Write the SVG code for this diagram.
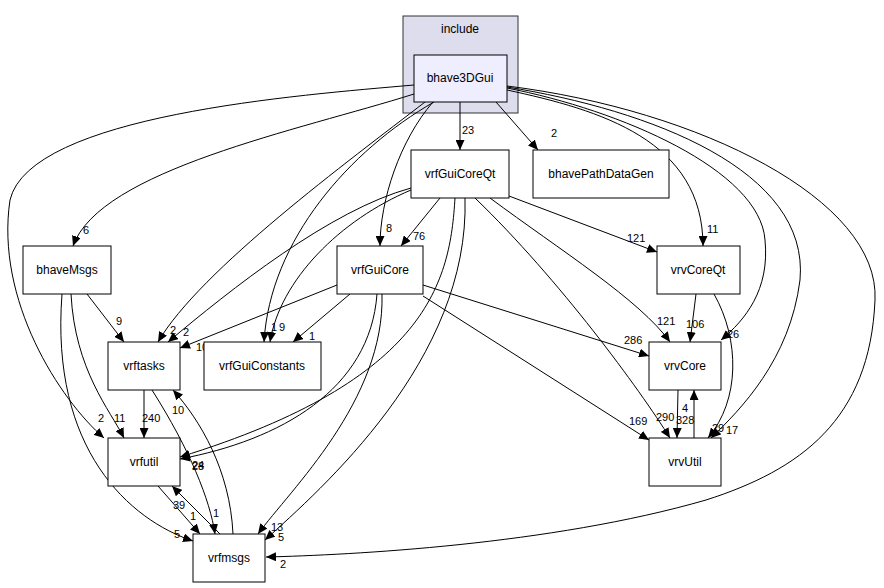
<svg xmlns="http://www.w3.org/2000/svg" width="884" height="588" viewBox="0 0 884 588">
<style>
.n rect{fill:#fff;stroke:#000;stroke-width:1}
text{font-family:"Liberation Sans",Arial,sans-serif;font-size:12px;fill:#000}
.n text{text-anchor:middle}
.e path{fill:none;stroke:#000;stroke-width:1;marker-end:url(#a)}
.l text{font-size:11px}
</style>
<defs><marker id="a" markerUnits="userSpaceOnUse" markerWidth="11" markerHeight="9" refX="10" refY="4.5" orient="auto"><path d="M0,0L10,4.5L0,9z" fill="#000"/></marker></defs>
<rect width="884" height="588" fill="#fff"/>
<g id="cluster_include"><rect x="403" y="16" width="115" height="97" fill="#ddddee" stroke="#333"/><text x="460" y="33" text-anchor="middle">include</text></g>
<g class="e" id="edges">
<path d="M460,102V150"/>
<path d="M496,102L538,150"/>
<path d="M414,94C300,130 100,170 73,246"/>
<path d="M414,85C300,95 30,115 10,200C-5,300 60,400 104,438"/>
<path d="M425,102C350,160 200,270 158,342"/>
<path d="M434,102C350,150 270,240 264,342"/>
<path d="M433,102C400,140 380,200 380,246"/>
<path d="M507,90C600,110 703,140 703,246"/>
<path d="M507,88C620,110 760,170 765,240C770,290 745,320 721,340"/>
<path d="M507,87C650,110 810,170 800,280C790,360 740,410 711,438"/>
<path d="M507,86C700,110 880,200 875,300C870,420 800,470 706,500C550,545 350,555 266,557"/>
<path d="M440,198L401,246"/>
<path d="M509,196L657,252"/>
<path d="M490,198C560,250 640,300 670,342"/>
<path d="M475,198C560,280 640,390 670,438"/>
<path d="M411,188C330,210 230,290 168,342"/>
<path d="M411,190C340,220 280,280 270,342"/>
<path d="M455,198C450,280 430,380 180,457"/>
<path d="M465,198C470,360 320,490 265,540"/>
<path d="M337,285L180,348"/>
<path d="M350,294L293,342"/>
<path d="M377,294C370,390 280,440 180,459"/>
<path d="M382,294C385,400 290,490 258,534"/>
<path d="M423,285L649,356"/>
<path d="M423,296L649,440"/>
<path d="M87,294L124,342"/>
<path d="M71,294C75,370 110,410 124,438"/>
<path d="M62,294C50,450 130,520 193,541"/>
<path d="M144,390V438"/>
<path d="M152,390C190,450 210,500 215,534"/>
<path d="M158,486L200,534"/>
<path d="M220,534L172,486"/>
<path d="M233,534C230,470 200,420 173,390"/>
<path d="M696,294L690,342"/>
<path d="M714,294C740,340 740,400 708,438"/>
<path d="M678,390L677,438"/>
<path d="M694,438V390"/>
</g>
<g class="l" id="labels">
<text x="462" y="134">23</text>
<text x="551" y="137">2</text>
<text x="83" y="234">6</text>
<text x="98" y="422">2</text>
<text x="170" y="334">2</text>
<text x="271" y="331">1</text>
<text x="386" y="232">8</text>
<text x="707" y="233">11</text>
<text x="727" y="338">26</text>
<text x="726" y="434">17</text>
<text x="280" y="568">2</text>
<text x="413" y="240">76</text>
<text x="627" y="242">121</text>
<text x="657" y="325">121</text>
<text x="656" y="421">290</text>
<text x="183" y="336">2</text>
<text x="279" y="331">9</text>
<text x="192" y="469">24</text>
<text x="278" y="541">5</text>
<text x="196" y="351">10</text>
<text x="309" y="340">1</text>
<text x="192" y="470">28</text>
<text x="271" y="531">13</text>
<text x="624" y="344">286</text>
<text x="629" y="425">169</text>
<text x="116" y="325">9</text>
<text x="114" y="422">11</text>
<text x="174" y="538">5</text>
<text x="142" y="422">240</text>
<text x="213" y="517">1</text>
<text x="173" y="509">39</text>
<text x="190" y="520">1</text>
<text x="172" y="414">10</text>
<text x="686" y="328">106</text>
<text x="712" y="432">29</text>
<text x="676" y="424">328</text>
<text x="682" y="412">4</text>
</g>
<g class="n" id="bhave3DGui"><rect x="414" y="55" width="93" height="47" style="fill:#eeeeff;stroke:#000"/><text x="460" y="82">bhave3DGui</text></g>
<g class="n" id="vrfGuiCoreQt"><rect x="411" y="150" width="98" height="48"/><text x="460" y="178">vrfGuiCoreQt</text></g>
<g class="n" id="bhavePathDataGen"><rect x="533" y="150" width="136" height="48"/><text x="601" y="178">bhavePathDataGen</text></g>
<g class="n" id="bhaveMsgs"><rect x="23" y="246" width="88" height="48"/><text x="67" y="274">bhaveMsgs</text></g>
<g class="n" id="vrfGuiCore"><rect x="337" y="246" width="86" height="48"/><text x="380" y="274">vrfGuiCore</text></g>
<g class="n" id="vrvCoreQt"><rect x="657" y="246" width="83" height="48"/><text x="698" y="274">vrvCoreQt</text></g>
<g class="n" id="vrftasks"><rect x="108" y="342" width="72" height="48"/><text x="144" y="370">vrftasks</text></g>
<g class="n" id="vrfGuiConstants"><rect x="204" y="342" width="117" height="48"/><text x="262" y="370">vrfGuiConstants</text></g>
<g class="n" id="vrvCore"><rect x="649" y="342" width="72" height="48"/><text x="685" y="370">vrvCore</text></g>
<g class="n" id="vrfutil"><rect x="108" y="438" width="72" height="48"/><text x="144" y="466">vrfutil</text></g>
<g class="n" id="vrvUtil"><rect x="649" y="438" width="72" height="48"/><text x="685" y="466">vrvUtil</text></g>
<g class="n" id="vrfmsgs"><rect x="193" y="534" width="72" height="48"/><text x="229" y="562">vrfmsgs</text></g>
</svg>
